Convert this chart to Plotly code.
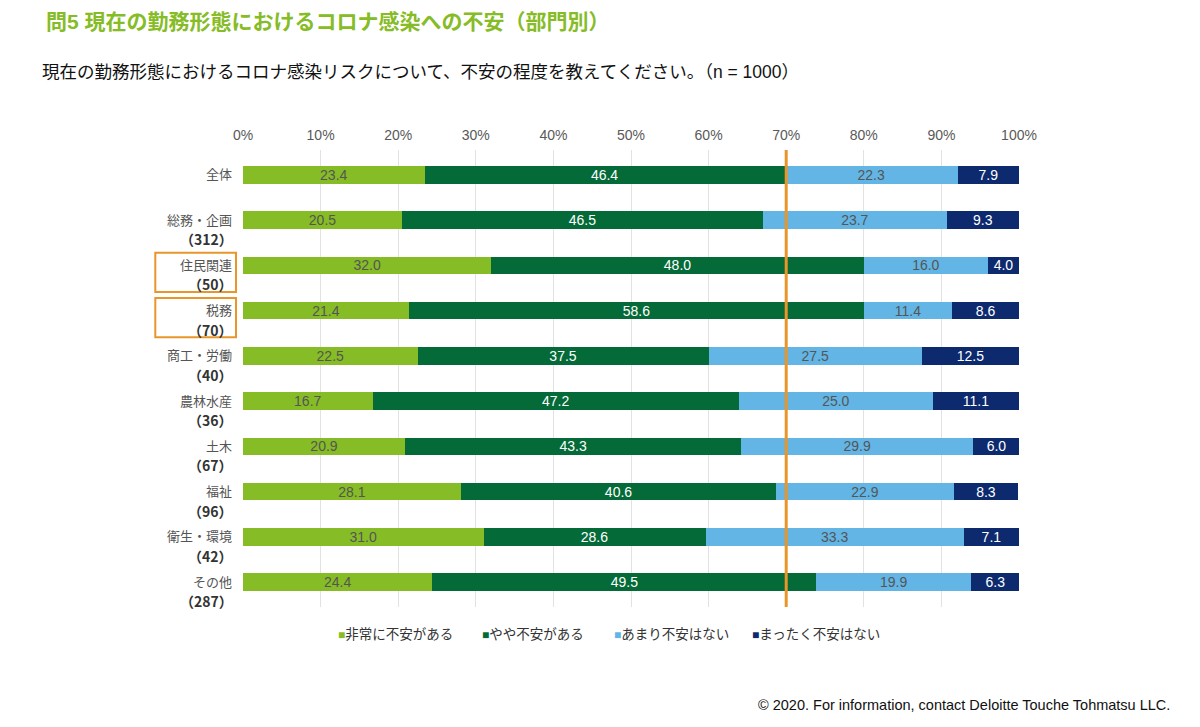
import plotly.graph_objects as go

categories = ["全体", "総務・企画", "住民関連", "税務", "商工・労働", "農林水産", "土木", "福祉", "衛生・環境", "その他"]
n_values = ["", "(312)", "(50)", "(70)", "(40)", "(36)", "(67)", "(96)", "(42)", "(287)"]
series_names = ["非常に不安がある", "やや不安がある", "あまり不安はない", "まったく不安はない"]
very_anxious = [23.4, 20.5, 32.0, 21.4, 22.5, 16.7, 20.9, 28.1, 31.0, 24.4]
somewhat_anxious = [46.4, 46.5, 48.0, 58.6, 37.5, 47.2, 43.3, 40.6, 28.6, 49.5]
not_very_anxious = [22.3, 23.7, 16.0, 11.4, 27.5, 25.0, 29.9, 22.9, 33.3, 19.9]
not_anxious = [7.9, 9.3, 4.0, 8.6, 12.5, 11.1, 6.0, 8.3, 7.1, 6.3]
highlighted = ["住民関連", "税務"]
reference_line = 70

colors = ["#86BC25", "#046A38", "#62B5E5", "#0D2A6E"]
text_colors = ["#555555", "#FFFFFF", "#555555", "#FFFFFF"]
font = "Arial, 'Liberation Sans', 'Noto Sans CJK JP', sans-serif"
cjk_font = "'Noto Sans CJK JP', sans-serif"

W, H = 1200, 727
L, R, T, B = 243, 181, 150, 120
PW, PH = W - L - R, H - T - B


def px_to_paper(px, py):
    return (px - L) / PW, 1 - (py - T) / PH


ypos = list(range(len(categories)))
fig = go.Figure()
for name, vals, c, tc in zip(series_names, [very_anxious, somewhat_anxious, not_very_anxious, not_anxious], colors, text_colors):
    fig.add_trace(go.Bar(
        x=vals, y=ypos, orientation="h", name=name,
        marker=dict(color=c, line=dict(width=0)),
        text=[f"{v:.1f}" for v in vals], textposition="inside", insidetextanchor="middle",
        textfont=dict(color=tc, size=14, family=font), width=0.39,
        hoverinfo="x+name", showlegend=False,
    ))

# category labels
for i, (cat, n) in enumerate(zip(categories, n_values)):
    fig.add_annotation(x=-0.012, xref="paper", y=i, yref="y", text=cat, showarrow=False,
                       xanchor="right", yanchor="middle",
                       font=dict(size=13, color="#555555", family=font))
    if n:
        fig.add_annotation(x=-0.010, xref="paper", y=i, yref="y", yshift=-19,
                           text="<b>" + n.replace("(", "（").replace(")", "）") + "</b>",
                           showarrow=False, xanchor="right", yanchor="middle",
                           font=dict(size=14, color="#333333", family=cjk_font))
    if cat in highlighted:
        fig.add_shape(type="rect", xref="paper", yref="y", x0=-0.113, x1=-0.009,
                      y0=i - 0.28, y1=i + 0.59, line=dict(color="#E8962A", width=2))

fig.add_shape(type="line", xref="x", yref="paper", x0=reference_line, x1=reference_line, y0=0, y1=1.0,
              line=dict(color="#E8962A", width=3))

# legend as text items
legend_x = [336, 480, 612, 750]
for name, c, lx in zip(series_names, colors, legend_x):
    ax, ay = px_to_paper(lx, 634)
    fig.add_annotation(text=f"<span style='color:{c};font-size:12px'>■</span>{name}", x=ax, y=ay,
                       xref="paper", yref="paper", xanchor="left", yanchor="middle", showarrow=False,
                       font=dict(size=13.5, color="#333333", family=font))

fig.update_layout(
    width=W, height=H, barmode="stack", plot_bgcolor="white", paper_bgcolor="white",
    margin=dict(l=L, r=R, t=T, b=B),
    font=dict(family=font),
    uniformtext=dict(minsize=14, mode="show"),
    xaxis=dict(side="top", range=[0, 100], tickvals=list(range(0, 101, 10)),
               ticktext=[f"{v}%" for v in range(0, 101, 10)], showgrid=True, gridcolor="#E2E2E2",
               gridwidth=1, zeroline=False, showline=False, fixedrange=True,
               tickfont=dict(size=14, color="#595959", family=font), ticks="", ticklabelstandoff=6),
    yaxis=dict(range=[9.55, -0.55], showticklabels=False, showgrid=False, zeroline=False, fixedrange=True),
    showlegend=False,
)

tx, ty = px_to_paper(44, 21)
fig.add_annotation(text="<b>問5 現在の勤務形態におけるコロナ感染への不安（部門別）</b>", x=tx, y=ty,
                   xref="paper", yref="paper", xanchor="left", yanchor="middle", showarrow=False,
                   font=dict(size=21, color="#86BC25", family=font))
sx, sy = px_to_paper(40, 72)
fig.add_annotation(text="現在の勤務形態におけるコロナ感染リスクについて、不安の程度を教えてください。（n = 1000）",
                   x=sx, y=sy, xref="paper", yref="paper", xanchor="left", yanchor="middle",
                   showarrow=False, font=dict(size=17.5, color="#111111", family=font))
fx, fy = px_to_paper(1172, 705)
fig.add_annotation(text="© 2020. For information, contact Deloitte Touche Tohmatsu LLC.",
                   x=fx, y=fy, xref="paper", yref="paper", xanchor="right", yanchor="middle",
                   showarrow=False, font=dict(size=14.5, color="#111111", family=font))

fig.write_html("out.html")
